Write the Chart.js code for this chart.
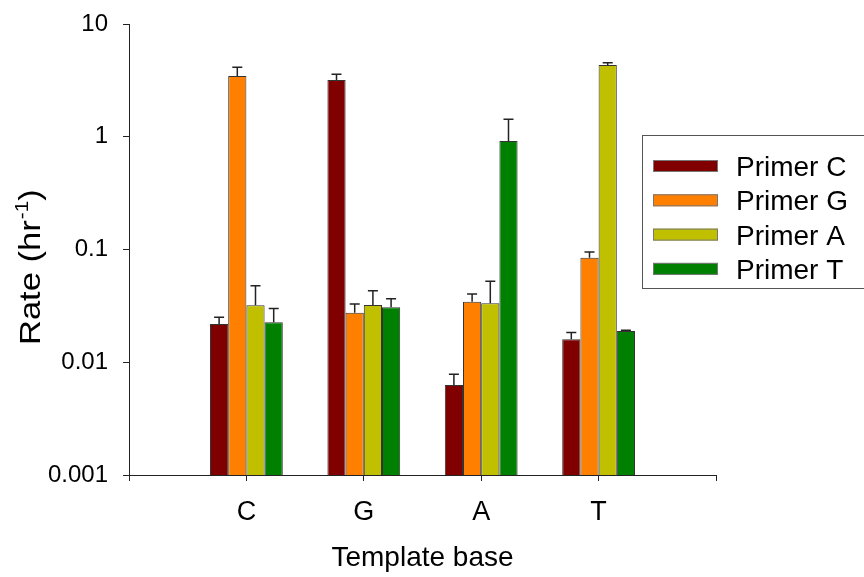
<!DOCTYPE html>
<html>
<head>
<meta charset="utf-8">
<script src="https://cdn.jsdelivr.net/npm/chart.js@4"></script>
<style>
  html, body { margin: 0; padding: 0; background: #fff; }
</style>
</head>
<body>
<canvas id="rate_chart" width="864" height="577"></canvas>
<script>
// template bases on the x axis, one series per primer
const templateBases = ["C", "G", "A", "T"];
const primerNames = ["Primer C", "Primer G", "Primer A", "Primer T"];
const primerColors = ["#800000", "#FF8000", "#C0C000", "#008000"];

// rates (hr^-1)
const primerC = [0.0218, 3.19, 0.00628, 0.0160];
const primerG = [3.46, 0.0275, 0.0344, 0.0846];
const primerA = [0.0320, 0.0322, 0.0334, 4.33];
const primerT = [0.0226, 0.0307, 0.916, 0.0189];

// upper error bar size
const errC = [0.0033, 0.39, 0.00154, 0.0024];
const errG = [0.67, 0.0054, 0.0059, 0.0104];
const errA = [0.0157, 0.0109, 0.0188, 0.21];
const errT = [0.0073, 0.0059, 0.51, 0.0003];

const yTicks = [0.001, 0.01, 0.1, 1, 10];

const fam = "'Liberation Sans', Arial, sans-serif";
Chart.defaults.font.family = fam;
Chart.defaults.color = "#000";

// empty slot on each side so the axis runs one band past C and T
const xLabels = ["", ...templateBases, ""];
const pad = (arr) => [null, ...arr, null];

const values = [primerC, primerG, primerA, primerT];
const errs = [errC, errG, errA, errT];

const datasets = primerNames.map((name, i) => ({
  label: name,
  data: pad(values[i]),
  errors: pad(errs[i]),
  backgroundColor: primerColors[i],
  borderColor: "#333",
  borderWidth: 1,
  borderSkipped: "start",
  categoryPercentage: 0.62,
  barPercentage: 1.0,
}));

const errorBars = {
  id: "errorBars",
  afterDatasetsDraw(chart) {
    const ctx = chart.ctx;
    const y = chart.scales.y;
    ctx.save();
    ctx.strokeStyle = "#222";
    ctx.lineWidth = 1.5;
    chart.data.datasets.forEach((ds, i) => {
      chart.getDatasetMeta(i).data.forEach((bar, j) => {
        const v = ds.data[j];
        if (v == null) return;
        const top = y.getPixelForValue(v + ds.errors[j]);
        ctx.beginPath();
        ctx.moveTo(bar.x, bar.y);
        ctx.lineTo(bar.x, top);
        ctx.moveTo(bar.x - 5, top);
        ctx.lineTo(bar.x + 5, top);
        ctx.stroke();
      });
    });
    ctx.restore();
  },
};

// y title with a real superscript, and the boxed legend
const extras = {
  id: "extras",
  afterDraw(chart) {
    const ctx = chart.ctx;
    const area = chart.chartArea;
    ctx.save();
    // axis lines run a tick length past the corner, like the original
    ctx.strokeStyle = "#222";
    ctx.lineWidth = 1;
    ctx.beginPath();
    ctx.moveTo(area.left - 6, area.bottom + 0.5);
    ctx.lineTo(area.left, area.bottom + 0.5);
    ctx.moveTo(area.left + 0.5, area.bottom);
    ctx.lineTo(area.left + 0.5, area.bottom + 6);
    ctx.stroke();

    ctx.fillStyle = "#000";
    ctx.translate(40, 345);
    ctx.rotate(-Math.PI / 2);
    ctx.scale(1.15, 1);
    ctx.textBaseline = "alphabetic";
    ctx.font = "30px " + fam;
    const main = "Rate (hr";
    ctx.fillText(main, 0, 0);
    let w = ctx.measureText(main).width;
    ctx.font = "18px " + fam;
    ctx.fillText("-1", w + 1, -12);
    w += ctx.measureText("-1").width + 1;
    ctx.font = "30px " + fam;
    ctx.fillText(")", w, 0);
    ctx.restore();

    ctx.save();
    ctx.strokeStyle = "#555";
    ctx.lineWidth = 1;
    ctx.strokeRect(642.5, 135.5, 240, 153);
    ctx.font = "28px " + fam;
    ctx.textBaseline = "alphabetic";
    chart.data.datasets.forEach((ds, i) => {
      const cy = 166 + i * 34.3;
      ctx.fillStyle = ds.backgroundColor;
      ctx.fillRect(653, cy - 6, 65, 12);
      ctx.strokeStyle = "#777";
      ctx.strokeRect(653.5, cy - 5.5, 64, 11);
      ctx.fillStyle = "#000";
      ctx.fillText(ds.label, 736, cy + 10);
    });
    ctx.restore();
  },
};

const axisGrid = {
  display: true,
  drawOnChartArea: false,
  drawTicks: true,
  tickLength: 6,
  offset: false,
  color: "#222",
};

const ctx = document.getElementById("rate_chart").getContext("2d");
const rateChart = new Chart(ctx, {
  type: "bar",
  data: { labels: xLabels, datasets: datasets },
  options: {
    responsive: false,
    animation: false,
    layout: { padding: { top: 24, right: 148, left: 0, bottom: 0 } },
    plugins: { legend: { display: false }, tooltip: { enabled: false } },
    scales: {
      x: {
        offset: false,
        grid: axisGrid,
        border: { display: true, color: "#222", width: 1 },
        ticks: { font: { size: 27 }, padding: 15, maxRotation: 0, autoSkip: false },
        title: {
          display: true,
          text: "Template base",
          font: { size: 28 },
          padding: { top: 0, bottom: 2 },
        },
        afterFit: (s) => { s.height = 102; s.paddingLeft = 0; s.paddingRight = 0; },
      },
      y: {
        type: "logarithmic",
        min: 0.001,
        max: 10,
        grid: axisGrid,
        border: { display: true, color: "#222", width: 1 },
        ticks: { font: { size: 24 }, padding: 15, callback: (v) => String(v) },
        afterBuildTicks: (s) => { s.ticks = yTicks.map((v) => ({ value: v })); },
        afterFit: (s) => { s.width = 129; s.paddingTop = 0; s.paddingBottom = 0; },
      },
    },
  },
  plugins: [errorBars, extras],
});
</script>
</body>
</html>
